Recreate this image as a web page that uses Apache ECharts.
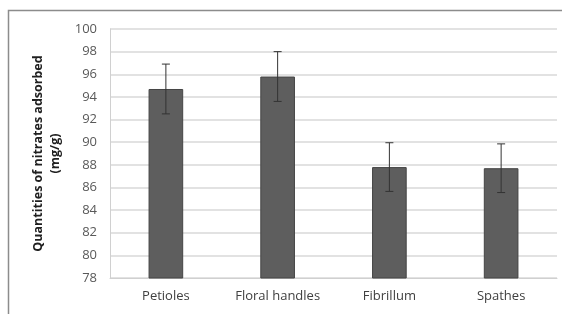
<!DOCTYPE html>
<html>
<head>
<meta charset="utf-8">
<script src="https://cdn.jsdelivr.net/npm/echarts@6/dist/echarts.min.js"></script>
<style>
  html, body { margin: 0; padding: 0; background: #fff; }
  #chart { width: 562px; height: 314px; }
</style>
</head>
<body>
<div id="chart"></div>
<script>
const categories = ['Petioles', 'Floral handles', 'Fibrillum', 'Spathes'];
const means = [94.7, 95.8, 87.8, 87.7];
const errors = [2.2, 2.2, 2.15, 2.15];

const chart = echarts.init(document.getElementById('chart'));

const errorData = means.map((m, i) => [i, m - errors[i], m + errors[i]]);

const option = {
    animation: false,
    textStyle: { fontFamily: 'Open Sans' },
    graphic: [{
        type: 'rect',
        shape: { x: 8.5, y: 10.5, width: 600, height: 400 },
        style: { fill: null, stroke: '#8c8c8c', lineWidth: 1.5 },
        z: -1
    }],
    grid: { left: 110, right: 5, top: 29, bottom: 36 },
    xAxis: {
        type: 'category',
        data: categories,
        axisLine: { lineStyle: { color: '#d0d0d0' } },
        axisTick: { show: false },
        axisLabel: { color: '#404040', fontSize: 13, margin: 12 }
    },
    yAxis: {
        type: 'value',
        min: 78,
        max: 100,
        interval: 2,
        name: 'Quantities of nitrates adsorbed\n(mg/g)',
        nameLocation: 'middle',
        nameGap: 46,
        nameTextStyle: { fontWeight: 'bold', fontSize: 12.5, color: '#202020', lineHeight: 17 },
        axisLine: { show: true, lineStyle: { color: '#d0d0d0' } },
        axisTick: { show: false },
        axisLabel: { color: '#595959', fontSize: 13, margin: 13 },
        splitLine: { lineStyle: { color: '#d9d9d9', width: 1.5 } }
    },
    series: [
        {
            type: 'bar',
            data: means,
            barWidth: '31%',
            itemStyle: { color: '#5e5e5e', borderColor: '#454545', borderWidth: 1 }
        },
        {
            type: 'custom',
            data: errorData,
            z: 10,
            renderItem: function (params, api) {
                const x = api.coord([api.value(0), api.value(1)])[0];
                const yLow = api.coord([api.value(0), api.value(1)])[1];
                const yHigh = api.coord([api.value(0), api.value(2)])[1];
                const cap = 4;
                const style = { stroke: '#333', lineWidth: 1 };
                return {
                    type: 'group',
                    children: [
                        { type: 'line', shape: { x1: x, y1: yLow, x2: x, y2: yHigh }, style: style },
                        { type: 'line', shape: { x1: x - cap, y1: yHigh, x2: x + cap, y2: yHigh }, style: style },
                        { type: 'line', shape: { x1: x - cap, y1: yLow, x2: x + cap, y2: yLow }, style: style }
                    ]
                };
            }
        }
    ]
};

chart.setOption(option);
</script>
</body>
</html>
